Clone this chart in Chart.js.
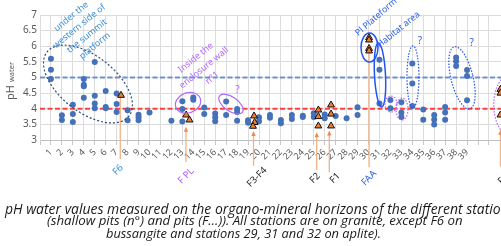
<!DOCTYPE html>
<html>
<head>
<meta charset="utf-8">
<script src="https://cdn.jsdelivr.net/npm/chart.js@4.4.1/dist/chart.umd.min.js"></script>
<style>
  body { margin: 0; background: #fff; }
  #wrap { position: relative; width: 501px; height: 246px; overflow: hidden; }
  canvas { position: absolute; left: 0; top: 0; }
  .cap { position: absolute; white-space: nowrap; font-family: "Open Sans", sans-serif; font-style: italic; color: #1a1a1a; line-height: 1; }
</style>
</head>
<body>
<div id="wrap">
  <canvas id="chart" width="501" height="246"></canvas>
  <div class="cap" id="cap1" style="left:5px; top:202px;">pH water values measured on the organo-mineral horizons of the different stations</div>
  <div class="cap" id="cap2" style="left:47px; top:214px;">(shallow pits (n°) and pits (F…)). All stations are on granite, except F6 on</div>
  <div class="cap" id="cap3" style="left:106px; top:227px;">bussangite and stations 29, 31 and 32 on aplite).</div>
</div>
<script>
// pH eau des fosses superficielles, stations 1 a 39 (une liste par station)
var stationPH = [
  [5.6, 5.25, 4.95], [3.79, 3.64], [4.13, 3.83, 3.58], [4.95, 4.77, 4.72, 4.35],
  [5.5, 4.42, 4.17, 4.02], [4.57, 4.06, 4.02], [4.49, 4.15, 3.9], [3.95, 3.63],
  [3.81, 3.73, 3.63], [3.88], [], [3.62],
  [4.24, 3.99, 3.59], [4.36, 4.29], [4.04, 3.83], [3.85, 3.73, 3.6],
  [4.23, 3.8], [3.99, 3.9, 3.62], [3.63, 3.55], [3.73, 3.6],
  [3.8, 3.71], [3.64, 3.54], [3.8, 3.67], [3.78, 3.74],
  [3.86, 3.74], [3.82, 3.7], [3.77], [3.7],
  [4.05, 3.8], [], [5.57, 5.25, 4.17], [4.28, 4.02],
  [4.21, 3.88, 3.74], [5.45, 4.81, 4.09], [3.98, 3.65], [3.8, 3.66, 3.5],
  [4.06, 3.88, 3.65], [5.64, 5.52, 5.37], [5.24, 5.05, 4.27]
];

// fosses pedologiques (F...)
var pitNames = ['F6', 'F PL', 'F3-F4', 'F2', 'F1', 'FAA', 'F5'];
var pitX = [[7.4], [13.35, 13.65], [19.55, 19.6, 19.45], [25.42, 25.42, 25.42],
            [26.58, 26.58, 26.58], [30.05, 30.05, 30.05, 30.05], [42.05, 42.05, 42.05]];
var pitPH = [[4.43], [3.8, 3.64], [3.77, 3.56, 3.44], [3.96, 3.75, 3.45],
             [4.12, 3.83, 3.45], [6.28, 6.2, 5.93, 5.85], [4.62, 4.5, 3.8]];

var thresholdBlue = 5;
var thresholdRed = 4;
var stationTicks = 39;
var xMax = 42.1;

// reperes des fosses sous l'axe (unites des donnees)
var pitLines = [
  { x: 7.33,  top: 4.43, bottom: 2.39, lx: 7.12,  ly: 2.04, color: '#3b8fd9', arrow: false },
  { x: 13.33, top: 3.39, bottom: 2.3,  lx: 13.33, ly: 1.85, color: '#a855f7', arrow: true },
  { x: 19.5,  top: 3.26, bottom: 2.17, lx: 19.82, ly: 1.81, color: '#1a1a1a', arrow: true },
  { x: 25.27, top: 3.22, bottom: 2.04, lx: 25.11, ly: 1.78, color: '#1a1a1a', arrow: true },
  { x: 26.42, top: 3.27, bottom: 1.97, lx: 26.94, ly: 1.78, color: '#1a1a1a', arrow: true },
  { x: 30.05, top: 5.85, bottom: 2.13, lx: 30.05, ly: 1.78, color: '#2f5fe8', arrow: false },
  { x: 42.05, top: 3.3,  bottom: 2.15, lx: 42.3,  ly: 1.75, color: '#1a1a1a', arrow: true }
];

// ellipses dessinees a la main
var rings = [
  { x: 4.38,  y: 4.79, rx: 52,  ry: 28,   rot: 38,  color: '#2b4c7e', dash: [2, 2],     w: 1.2 },
  { x: 13.52, y: 4.19, rx: 13,  ry: 10,   rot: -20, color: '#b366ff', dash: [],         w: 1.2 },
  { x: 17.44, y: 4.15, rx: 14,  ry: 7,    rot: 35,  color: '#b366ff', dash: [],         w: 1.2 },
  { x: 30.09, y: 5.96, rx: 8.5, ry: 14.5, rot: 0,   color: '#2255ee', dash: [],         w: 1.5 },
  { x: 31.05, y: 5.08, rx: 5.5, ry: 32,   rot: -3,  color: '#2255ee', dash: [],         w: 1.5 },
  { x: 32.05, y: 4.15, rx: 6,   ry: 8,    rot: 0,   color: '#b366ff', dash: [1.5, 1.5], w: 1.2 },
  { x: 33.06, y: 3.99, rx: 6,   ry: 11,   rot: 0,   color: '#b366ff', dash: [1.5, 1.5], w: 1.2 },
  { x: 34.06, y: 5.02, rx: 6,   ry: 31,   rot: 0,   color: '#2255ee', dash: [1.5, 1.5], w: 1.2 },
  { x: 38.54, y: 4.99, rx: 11,  ry: 32,   rot: -14, color: '#2255ee', dash: [1.5, 1.5], w: 1.2 },
  { x: 42.9,  y: 4.12, rx: 16,  ry: 30,   rot: 0,   color: '#b366ff', dash: [1.5, 1.5], w: 1.2 }
];

var notes = [
  { lines: ['under the', 'western side of', 'the summit', 'platform'], x: 3.93, y: 6.48, rot: -39, color: '#3b8fd9', size: 9, lh: 12.5 },
  { lines: ['Inside the', 'enclosure wall', 'n°1'], x: 14.98, y: 5.31, rot: -39, color: '#b366ff', size: 9, lh: 13 },
  { lines: ['Pl Plateform'], x: 30.7, y: 6.93, rot: -41, color: '#2f5fe8', size: 9, lh: 12 },
  { lines: ['Habitat area'], x: 32.74, y: 6.53, rot: -39, color: '#2f5fe8', size: 9, lh: 12 },
  { lines: ['?'], x: 18.02, y: 4.6, rot: 0, color: '#b366ff', size: 10, lh: 12 },
  { lines: ['?'], x: 34.7, y: 6.15, rot: 0, color: '#2f5fe8', size: 10, lh: 12 },
  { lines: ['?'], x: 39.42, y: 6.1, rot: 0, color: '#2f5fe8', size: 10, lh: 12 }
];

// largeur voulue de chaque ligne de legende (la 1re est coupee au bord a "statio")
function fitCaption(id, visibleText, target) {
  var el = document.getElementById(id);
  var c = document.createElement('canvas').getContext('2d');
  c.font = 'italic 12px "Open Sans"';
  var w = c.measureText(visibleText).width;
  el.style.fontSize = (12 * target / w).toFixed(2) + 'px';
}
fitCaption('cap1', 'pH water values measured on the organo-mineral horizons of the different statio', 496);
fitCaption('cap2', '(shallow pits (n°) and pits (F…)). All stations are on granite, except F6 on', 416);
fitCaption('cap3', 'bussangite and stations 29, 31 and 32 on aplite).', 275);

var shallowPoints = [];
stationPH.forEach(function (vals, i) {
  vals.forEach(function (v) { shallowPoints.push({ x: i + 1, y: v }); });
});
var pitPoints = [];
pitPH.forEach(function (vals, i) {
  vals.forEach(function (v, j) { pitPoints.push({ x: pitX[i][j], y: v }); });
});

var sketch = {
  id: 'sketch',
  beforeDatasetsDraw: function (chart) {
    var ctx = chart.ctx, sx = chart.scales.x, sy = chart.scales.y;
    ctx.save();
    pitLines.forEach(function (p) {
      var px = sx.getPixelForValue(p.x);
      var t = sy.getPixelForValue(p.top), b = sy.getPixelForValue(p.bottom);
      ctx.strokeStyle = '#f4b183';
      ctx.lineWidth = 1.3;
      ctx.beginPath(); ctx.moveTo(px, b); ctx.lineTo(px, t + (p.arrow ? 3 : 0)); ctx.stroke();
      if (p.arrow) {
        ctx.fillStyle = '#f08a4b';
        ctx.beginPath(); ctx.moveTo(px, t - 1); ctx.lineTo(px - 2.2, t + 4); ctx.lineTo(px + 2.2, t + 4);
        ctx.closePath(); ctx.fill();
      }
    });
    ctx.restore();
  },
  afterDatasetsDraw: function (chart) {
    var ctx = chart.ctx, sx = chart.scales.x, sy = chart.scales.y;
    ctx.save();
    rings.forEach(function (r) {
      ctx.strokeStyle = r.color;
      ctx.lineWidth = r.w;
      ctx.setLineDash(r.dash);
      ctx.beginPath();
      ctx.ellipse(sx.getPixelForValue(r.x), sy.getPixelForValue(r.y), r.rx, r.ry, r.rot * Math.PI / 180, 0, 2 * Math.PI);
      ctx.stroke();
    });
    ctx.setLineDash([]);
    ctx.textAlign = 'center';
    ctx.textBaseline = 'middle';
    notes.forEach(function (n) {
      ctx.save();
      ctx.translate(sx.getPixelForValue(n.x), sy.getPixelForValue(n.y));
      ctx.rotate(n.rot * Math.PI / 180);
      ctx.fillStyle = n.color;
      ctx.font = n.size + 'px "Noto Sans"';
      n.lines.forEach(function (txt, i) {
        ctx.fillText(txt, 0, (i - (n.lines.length - 1) / 2) * n.lh);
      });
      ctx.restore();
    });
    pitLines.forEach(function (p, i) {
      ctx.save();
      ctx.translate(sx.getPixelForValue(p.lx), sy.getPixelForValue(p.ly));
      ctx.rotate(-Math.PI / 4);
      ctx.fillStyle = p.color;
      ctx.font = '9.5px "Noto Sans"';
      ctx.fillText(pitNames[i], 0, 0);
      ctx.restore();
    });
    ctx.restore();
  },
  afterDraw: function (chart) {
    var ctx = chart.ctx;
    ctx.save();
    ctx.translate(14, 100);
    ctx.rotate(-Math.PI / 2);
    ctx.fillStyle = '#595959';
    ctx.textBaseline = 'alphabetic';
    ctx.font = '11px "Noto Sans"';
    ctx.fillText('pH', 0, 0);
    var w = ctx.measureText('pH').width;
    ctx.font = '7.5px "Noto Sans"';
    ctx.fillText('water', w + 3, 0);
    ctx.restore();
  }
};

new Chart(document.getElementById('chart'), {
  type: 'scatter',
  data: {
    datasets: [
      { label: 'pits', data: pitPoints, pointStyle: 'triangle', pointRadius: 4,
        backgroundColor: '#ed7d31', borderColor: '#111', borderWidth: 1, order: 1 },
      { label: 'shallow pits', data: shallowPoints, pointRadius: 3,
        backgroundColor: '#4571b8', borderWidth: 0, order: 2 },
      { type: 'line', data: [{ x: 0, y: thresholdBlue }, { x: xMax, y: thresholdBlue }],
        borderColor: '#6f8fd0', borderDash: [5, 2.5], borderWidth: 2, pointRadius: 0, order: 3 },
      { type: 'line', data: [{ x: 0, y: thresholdRed }, { x: xMax, y: thresholdRed }],
        borderColor: '#ff4040', borderDash: [5, 2.5], borderWidth: 2, pointRadius: 0, order: 3 }
    ]
  },
  options: {
    responsive: false,
    animation: false,
    devicePixelRatio: 1,
    layout: { autoPadding: false, padding: { top: 15, right: 0, left: 0, bottom: 0 } },
    plugins: { legend: { display: false }, tooltip: { enabled: false } },
    scales: {
      x: {
        type: 'linear', min: 0, max: xMax,
        ticks: {
          stepSize: 1, autoSkip: false, maxRotation: 45, minRotation: 45, padding: 2,
          color: '#595959', font: { family: 'Noto Sans', size: 9 },
          callback: function (v) { return (v >= 1 && v <= stationTicks && v % 1 === 0) ? String(v) : ''; }
        },
        grid: { color: '#dcdcdc', tickLength: 5, tickColor: '#c8c8c8' },
        border: { color: '#bfbfbf' },
        afterFit: function (s) { s.height = 106; s.paddingRight = 0; s.paddingLeft = 0; }
      },
      y: {
        min: 3, max: 7,
        ticks: { stepSize: 0.5, color: '#595959', font: { family: 'Noto Sans', size: 10 }, padding: 3,
          callback: function (v) { return String(v); } },
        grid: { color: '#dcdcdc', drawTicks: false },
        border: { color: '#dcdcdc' },
        afterFit: function (s) { s.width = 40; }
      }
    }
  },
  plugins: [sketch]
});
</script>
</body>
</html>
